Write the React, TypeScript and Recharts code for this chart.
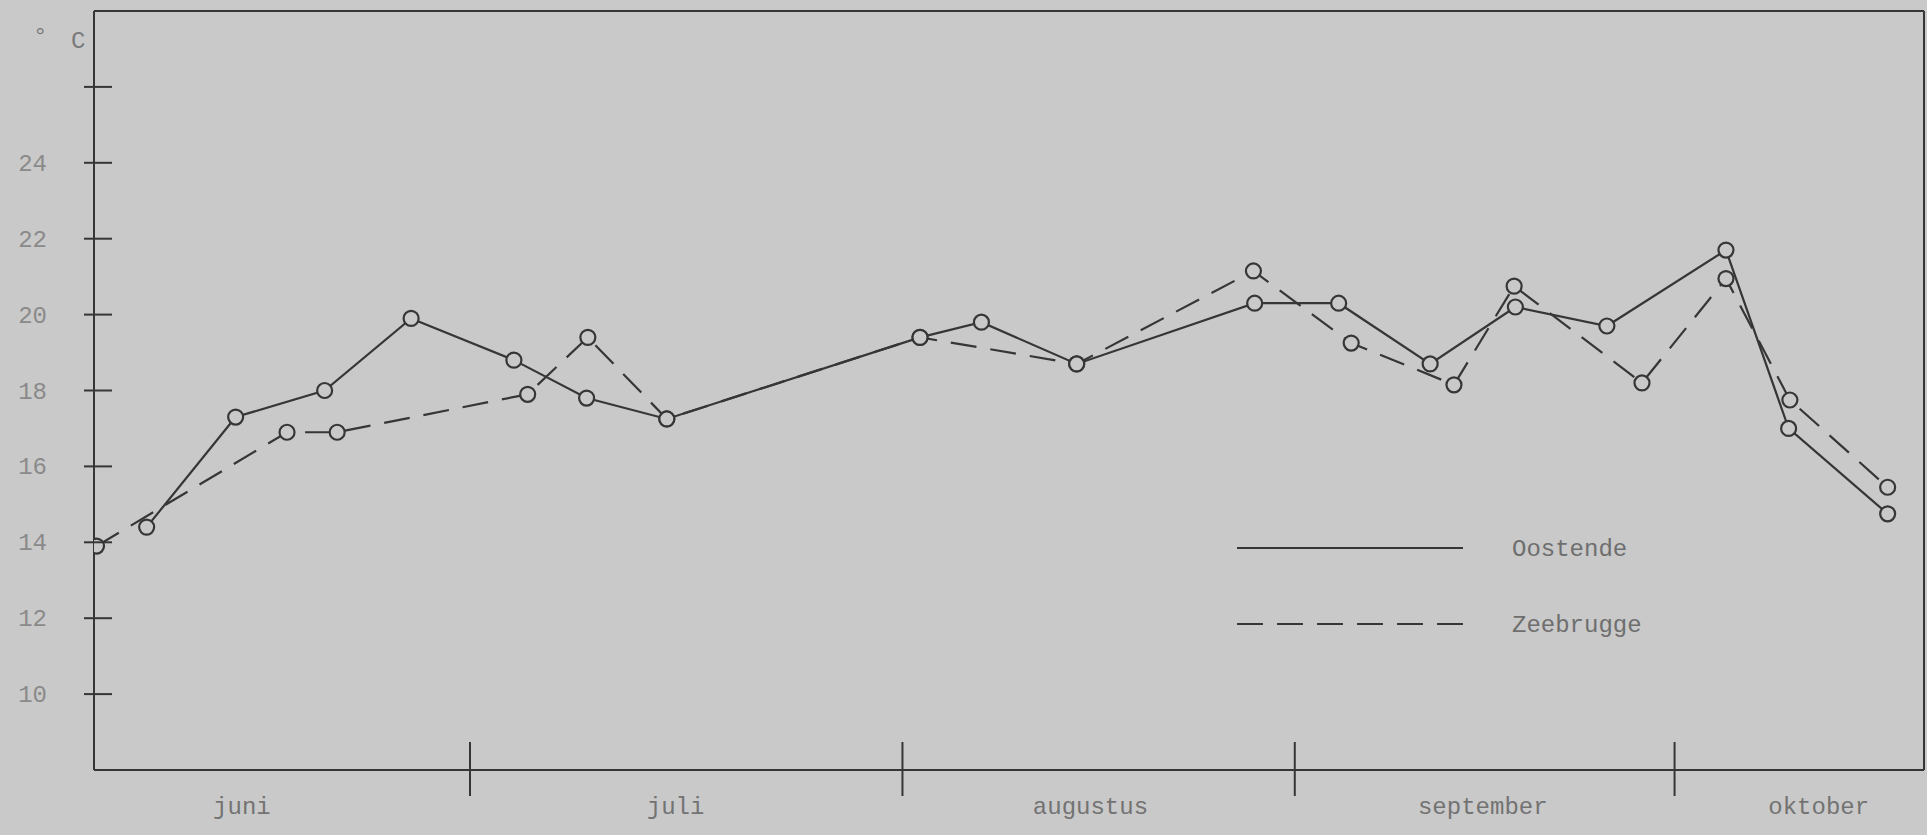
import { Legend, Line, LineChart, ReferenceLine, XAxis, YAxis } from "recharts";

// days counted from the left edge (start of June), temperatures in °C
const oostendeDays = [4.2, 11.3, 18.4, 25.3, 33.5, 39.3, 45.7, 65.9, 70.8, 78.4, 92.6, 99.3, 106.6, 113.4, 120.7, 130.2, 135.2, 143.1];
const oostendeTemps = [14.4, 17.3, 18.0, 19.9, 18.8, 17.8, 17.25, 19.4, 19.8, 18.7, 20.3, 20.3, 18.7, 20.2, 19.7, 21.7, 17.0, 14.75];
const zeebruggeDays = [0.2, 15.4, 19.4, 34.6, 39.4, 45.7, 65.9, 78.4, 92.5, 100.3, 108.5, 113.3, 123.5, 130.2, 135.3, 143.1];
const zeebruggeTemps = [13.9, 16.9, 16.9, 17.9, 19.4, 17.25, 19.4, 18.7, 21.15, 19.25, 18.15, 20.75, 18.2, 20.95, 17.75, 15.45];

const monthNames = ["juni", "juli", "augustus", "september", "oktober"];
const monthBounds = [30.0, 64.5, 95.8, 126.1];
const monthLabelAt = [11.8, 46.4, 79.5, 110.8, 137.6];
const tempTicks = [10, 12, 14, 16, 18, 20, 22, 24, 26];

const paper = "#c9c9c9";
const ink = "#363636";
const mono = "'Liberation Mono', 'DejaVu Sans Mono', monospace";

const oostende = oostendeDays.map((x, i) => ({ x, t: oostendeTemps[i] }));
const zeebrugge = zeebruggeDays.map((x, i) => ({ x, t: zeebruggeTemps[i] }));

const MonthTick = ({ x, y, payload }: any) => {
    const v = payload.value;
    if (monthBounds.includes(v)) {
        return <line x1={x} x2={x} y1={y - 28} y2={y + 26} stroke={ink} strokeWidth={2}/>;
    }
    const i = monthLabelAt.indexOf(v);
    return <text x={x} y={y + 44} textAnchor="middle" fontSize={24} fontFamily={mono} fill="#737373">
        {monthNames[i]}
    </text>;
};

const TempTick = ({ x, y, payload }: any) => (
    <g>
        <line x1={x - 10} x2={x + 18} y1={y} y2={y} stroke={ink} strokeWidth={2}/>
        {payload.value <= 24 &&
            <text x={x - 47} y={y} dy={8} textAnchor="end" fontSize={24} fontFamily={mono} fill="#8a8a8a">
                {payload.value}
            </text>}
    </g>
);

const UnitLabel = () => (
    <g fontFamily={mono} fill="#7a7a7a">
        <text x={33} y={44} fontSize={24}>°</text>
        <text x={71} y={48} fontSize={24}>C</text>
    </g>
);

const LegendBox = () => (
    <svg width={460} height={140}>
        <line x1={7} x2={233} y1={38} y2={38} stroke={ink} strokeWidth={2}/>
        <text x={282} y={46} fontSize={24} fontFamily={mono} fill="#6e6e6e">Oostende</text>
        <line x1={7} x2={233} y1={114} y2={114} stroke={ink} strokeWidth={2} strokeDasharray="26 14"/>
        <text x={282} y={122} fontSize={24} fontFamily={mono} fill="#6e6e6e">Zeebrugge</text>
    </svg>
);

export default function App() {
    const dot = { r: 7.5, fill: paper, stroke: ink, strokeWidth: 2.2, strokeDasharray: "none" };
    return <div style={{ position: "absolute", left: 0, top: 0, width: 1927, height: 835, background: paper, overflow: "hidden" }}>
        <LineChart width={1927} height={835} margin={{ top: 11, right: 3, bottom: 0, left: 0 }}>
            <XAxis type="number" dataKey="x" domain={[0, 146]} allowDataOverflow
                   ticks={[...monthBounds, ...monthLabelAt]} interval={0}
                   tick={<MonthTick/>} tickLine={false} tickSize={0} tickMargin={0} height={65}
                   axisLine={{ stroke: ink, strokeWidth: 2 }}/>
            <YAxis type="number" domain={[8, 28]} allowDataOverflow ticks={tempTicks} interval={0}
                   tick={<TempTick/>} tickLine={false} tickSize={0} tickMargin={0} width={94}
                   axisLine={{ stroke: ink, strokeWidth: 2 }} label={<UnitLabel/>}/>
            <ReferenceLine y={28} stroke={ink} strokeWidth={2}/>
            <ReferenceLine x={146} stroke={ink} strokeWidth={2}/>
            <Line data={zeebrugge} dataKey="t" type="linear" stroke={ink} strokeWidth={2.2}
                  strokeDasharray="26 14" dot={dot} activeDot={false} isAnimationActive={false}/>
            <Line data={oostende} dataKey="t" type="linear" stroke={ink} strokeWidth={2.2}
                  dot={dot} activeDot={false} isAnimationActive={false}/>
            <Legend layout="horizontal" verticalAlign="middle" align="center"
                    wrapperStyle={{ left: 1230, top: 510, width: 460, height: 140 }}
                    content={() => <LegendBox/>}/>
        </LineChart>
    </div>;
}
